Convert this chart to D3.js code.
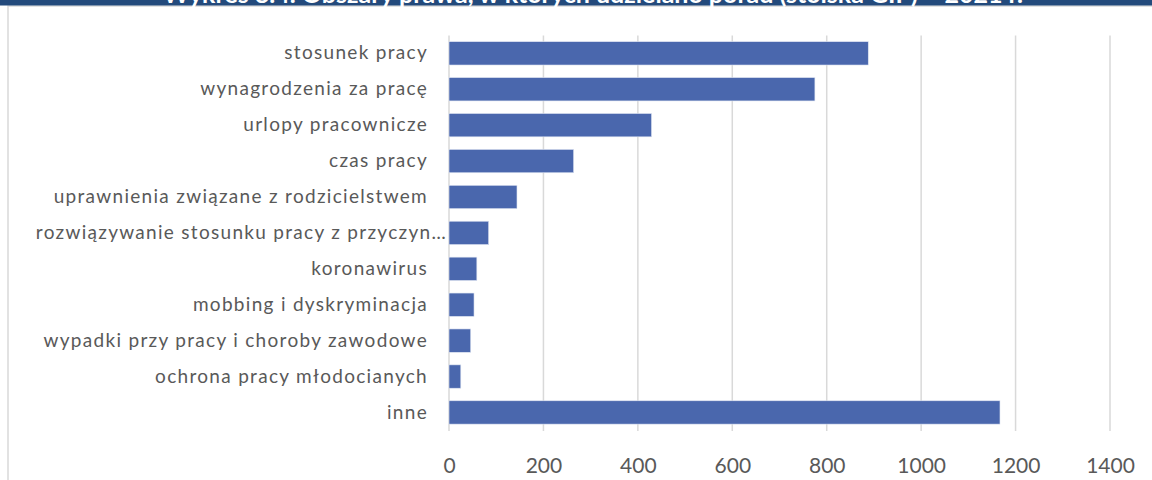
<!DOCTYPE html>
<html>
<head>
<meta charset="utf-8">
<script src="https://cdn.jsdelivr.net/npm/d3@7"></script>
<style>
  html, body { margin: 0; padding: 0; background: #fff; }
  svg { display: block; }
</style>
</head>
<body>
<svg id="chart" width="1152" height="480"></svg>
<script>
// Obszary prawa, w których udzielano porad – liczba porad
const categories = [
  "stosunek pracy",
  "wynagrodzenia za pracę",
  "urlopy pracownicze",
  "czas pracy",
  "uprawnienia związane z rodzicielstwem",
  "rozwiązywanie stosunku pracy z przyczyn…",
  "koronawirus",
  "mobbing i dyskryminacja",
  "wypadki przy pracy i choroby zawodowe",
  "ochrona pracy młodocianych",
  "inne"
];
const values = [888, 775, 429, 264, 144, 84, 59, 53, 46, 25, 1167];
const xTicks = [0, 200, 400, 600, 800, 1000, 1200, 1400];
const title = "Wykres 8.4. Obszary prawa, w których udzielano porad (stoiska GIP) – 2021 r.";

const W = 1152, H = 480;
const svg = d3.select("#chart");
const font = "Lato, 'Open Sans', sans-serif";

// outer frame
svg.append("rect")
  .attr("x", 8).attr("y", 6).attr("width", W).attr("height", H)
  .attr("fill", "#fff").attr("stroke", "#d9d9d9").attr("stroke-width", 1.5);

// title band (the title runs off the top edge of the page)
svg.append("rect").attr("x", 0).attr("y", 0).attr("width", W).attr("height", 5.5)
  .attr("fill", "#234a7c");
svg.append("text")
  .attr("x", 593).attr("y", 2.5)
  .attr("text-anchor", "middle")
  .attr("font-family", font).attr("font-weight", "bold").attr("font-size", 25)
  .attr("fill", "#fff")
  .text(title);

const plot = { left: 449, right: 1110, top: 35.4, bottom: 431 };

const x = d3.scaleLinear().domain([0, 1400]).range([plot.left, plot.right]);
const y = d3.scaleBand().domain(categories)
  .range([plot.top, plot.bottom - 0.6]).paddingInner(0.35).paddingOuter(0.175);

// vertical gridlines
svg.append("g").selectAll("line").data(xTicks).join("line")
  .attr("x1", d => x(d)).attr("x2", d => x(d))
  .attr("y1", plot.top).attr("y2", plot.bottom)
  .attr("stroke", "#d9d9d9").attr("stroke-width", 1.5);

// bars
svg.append("g").selectAll("rect").data(values).join("rect")
  .attr("x", x(0))
  .attr("y", (d, i) => y(categories[i]))
  .attr("width", d => x(d) - x(0))
  .attr("height", y.bandwidth())
  .attr("fill", "#4a67ad")
  .attr("stroke", "#dfe5f2").attr("stroke-width", 0.6);

// category axis
const yAxis = d3.axisLeft(y).tickSize(0).tickPadding(21);
const gy = svg.append("g").attr("transform", `translate(${plot.left},0)`).call(yAxis);
gy.select(".domain").remove();
gy.selectAll("text")
  .attr("font-family", font).attr("font-size", 19).attr("fill", "#595959")
  .attr("letter-spacing", "1.3px")
  .attr("dy", "0.32em")
  .attr("x", d => d.endsWith("…") ? -2 : -21);

// value axis
const xAxis = d3.axisBottom(x).tickValues(xTicks).tickSize(0).tickPadding(34)
  .tickFormat(d3.format("d"));
const gx = svg.append("g").attr("transform", `translate(0,${plot.bottom - 7})`).call(xAxis);
gx.select(".domain").remove();
gx.selectAll("text")
  .attr("font-family", font).attr("font-size", 21).attr("fill", "#595959");
</script>
</body>
</html>
